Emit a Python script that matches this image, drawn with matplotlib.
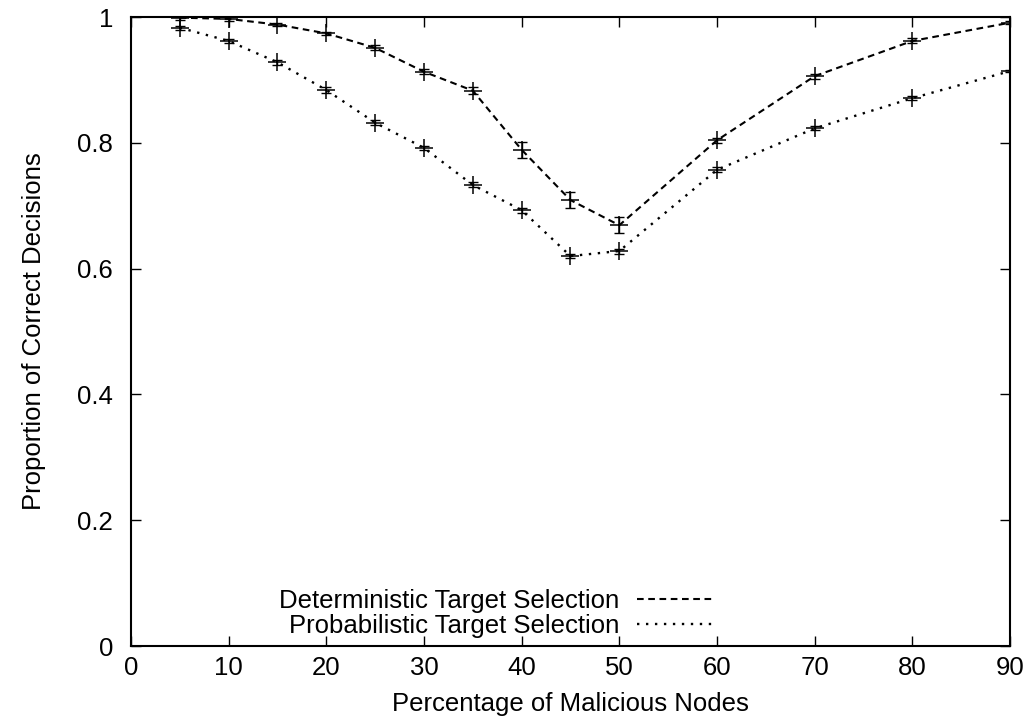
import matplotlib
matplotlib.use("Agg")
import matplotlib.pyplot as plt
from matplotlib.lines import Line2D

plt.rcParams['font.family'] = ['Liberation Sans', 'DejaVu Sans']

x_vals = [5, 10, 15, 20, 25, 30, 35, 40, 45, 50, 60, 70, 80, 90]
det_vals = [0.999, 0.997, 0.988, 0.974, 0.951, 0.913, 0.883, 0.789, 0.709, 0.669, 0.804, 0.906, 0.962, 0.991]
det_err = [0.003, 0.003, 0.003, 0.003, 0.004, 0.004, 0.006, 0.013, 0.013, 0.013, 0.004, 0.004, 0.004, 0.002]
prob_vals = [0.983, 0.962, 0.928, 0.884, 0.832, 0.792, 0.733, 0.693, 0.620, 0.628, 0.757, 0.823, 0.871, 0.914]
prob_err = [0.003, 0.003, 0.004, 0.004, 0.004, 0.003, 0.004, 0.004, 0.003, 0.004, 0.004, 0.003, 0.003, 0.002]
labels = ["Deterministic Target Selection", "Probabilistic Target Selection"]
x_ticks = [0, 10, 20, 30, 40, 50, 60, 70, 80, 90]
y_ticks = [0, 0.2, 0.4, 0.6, 0.8, 1.0]
y_ticklabels = ["0", "0.2", "0.4", "0.6", "0.8", "1"]

FS = 18.5

fig = plt.figure(figsize=(10.31, 7.28), dpi=100)
ax = fig.add_axes([0.127, 0.1126, 0.8526, 0.864])

det_style = dict(linestyle=(0, (3.2, 2.2)), lw=1.5)
prob_style = dict(linestyle=(0, (1.0, 2.8)), lw=1.7)

for vals, errs, sty in [(det_vals, det_err, det_style), (prob_vals, prob_err, prob_style)]:
    ax.plot(x_vals, vals, color='black', zorder=2, **sty)
    ax.errorbar(x_vals, vals, yerr=errs, fmt='none', ecolor='black',
                elinewidth=1.0, capsize=3.8, capthick=1.0, zorder=3)
    ax.plot(x_vals, vals, linestyle='none', marker='+', markersize=13,
            markeredgewidth=1.1, color='black', zorder=4)

ax.set_xlim(0, 90)
ax.set_ylim(0, 1)
ax.set_xticks(x_ticks)
ax.set_yticks(y_ticks)
ax.set_yticklabels(y_ticklabels)
ax.tick_params(direction='in', length=7, width=1.0, top=True, right=True,
               labelsize=FS)
ax.tick_params(axis='y', pad=13)
ax.tick_params(axis='x', pad=7)
for s in ax.spines.values():
    s.set_linewidth(1.5)

ax.set_xlabel("Percentage of Malicious Nodes", fontsize=FS, labelpad=9)
ax.set_ylabel("Proportion of Correct Decisions", fontsize=FS, labelpad=22)

handles = [Line2D([], [], color='black', **det_style),
           Line2D([], [], color='black', **prob_style)]
leg = ax.legend(handles, labels, loc='lower right', bbox_to_anchor=(0.661, 0.012),
                frameon=False, markerfirst=False, fontsize=FS, handlelength=2.9,
                handletextpad=0.7, borderpad=0, borderaxespad=0, labelspacing=0.05)
for t in leg.get_texts():
    t.set_ha('right')

fig.savefig("out.png", dpi=100)
